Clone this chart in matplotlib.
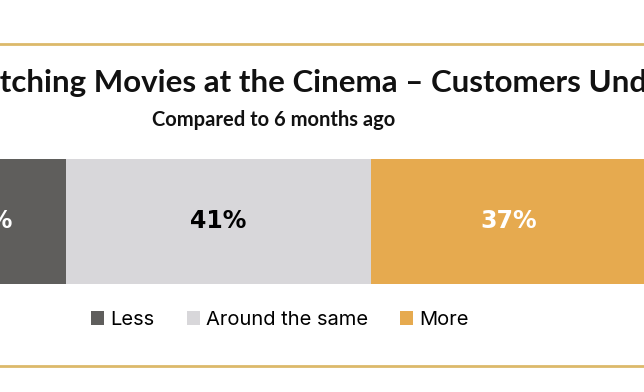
import matplotlib.pyplot as plt
from matplotlib.patches import Patch
from matplotlib.lines import Line2D

# data
categories = ['Less', 'Around the same', 'More']
values = [22, 41, 37]
colors = ['#5f5e5c', '#d8d7da', '#e6aa4f']
label_colors = ['white', 'black', 'white']

title = 'Watching Movies at the Cinema \u2013 Customers Under 35'
subtitle = 'Compared to 6 months ago'

W, H = 644, 392
fig = plt.figure(figsize=(W / 100, H / 100), dpi=100)

# the bar is wider than the picture (the image is a crop)
bar_left, bar_right = -98, 646
bar_top, bar_bottom = 159, 284
ax = fig.add_axes([bar_left / W, (H - bar_bottom) / H,
                   (bar_right - bar_left) / W, (bar_bottom - bar_top) / H])
left = 0
for v, c, lc in zip(values, colors, label_colors):
    ax.barh(0, v, left=left, height=1, color=c, edgecolor='none')
    ax.text(left + v / 2, 0, f'{v}%', ha='center', va='center',
            color=lc, fontsize=17, fontweight='bold', family='DejaVu Sans')
    left += v
ax.set_xlim(0, sum(values))
ax.set_ylim(-0.5, 0.5)
ax.axis('off')

cx = (bar_left + bar_right) / 2 / W

# title, positioned so "Wa" falls off the left edge
tsize = 22.5
t = fig.text(0, (H - 92) / H, title, ha='left', va='baseline',
             fontsize=tsize, fontweight='bold', family='Lato', color='#111111')
r = fig.canvas.get_renderer()
pre = fig.text(0, 0, 'Wa', fontsize=tsize, fontweight='bold', family='Lato')
wa = pre.get_window_extent(r).width
pre.remove()
t.set_x(-wa / W)

fig.text(cx, (H - 126) / H, subtitle, ha='center', va='baseline',
         fontsize=14.5, fontweight='bold', family='Lato', color='#111111')

# gold rules
for y in (44, 366):
    fig.add_artist(Line2D([0, 1], [(H - y) / H] * 2, color='#dcb96a', lw=2))

handles = [Patch(facecolor=c, edgecolor='none', label=n) for n, c in zip(categories, colors)]
fig.legend(handles=handles, loc='center', bbox_to_anchor=(280 / W, (H - 320) / H),
           ncol=3, frameon=False, handlelength=0.65, handleheight=0.65,
           handletextpad=0.3, columnspacing=1.6,
           prop={'family': 'Inter', 'size': 14.5})

plt.savefig('out.png', dpi=100)
